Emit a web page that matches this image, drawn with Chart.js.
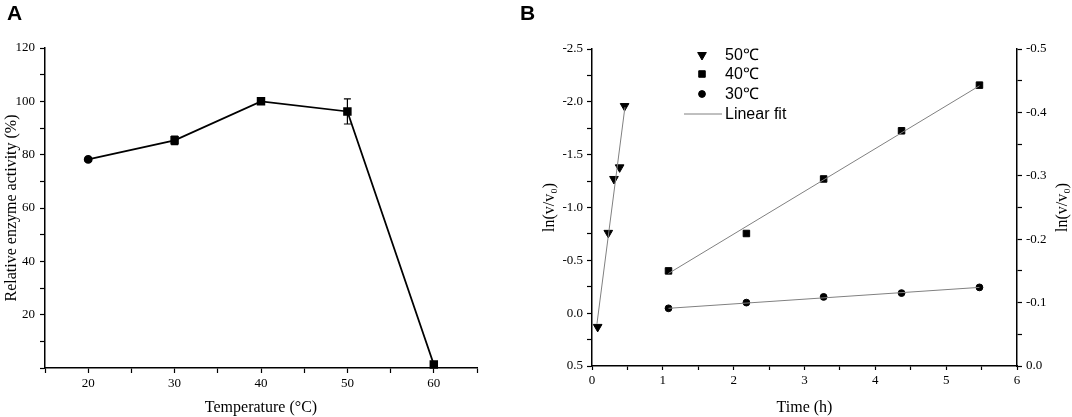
<!DOCTYPE html>
<html>
<head>
<meta charset="utf-8">
<script src="https://cdn.jsdelivr.net/npm/chart.js@4.4.1/dist/chart.umd.min.js"></script>
<style>
  html, body { margin: 0; padding: 0; background: #fff; }
  #wrap { position: relative; width: 1072px; height: 417px; overflow: hidden; }
  canvas { position: absolute; top: 0; }
  .tag { position: absolute; top: 2px; font: bold 21px 'Liberation Sans', Arial, sans-serif; line-height: 21px; color: #000; }
</style>
</head>
<body>
<div id="wrap">
  <canvas id="chartA" width="520" height="417" style="left:0"></canvas>
  <canvas id="chartB" width="552" height="417" style="left:520px"></canvas>
  <div class="tag" style="left:7px">A</div>
  <div class="tag" style="left:520px">B</div>
</div>
<script>
// Panel A: relative activity vs temperature
const tempC = [20, 30, 40, 50, 60];
const activity = [78.2, 85.4, 100, 96.2, 1.3];
const activityErr = [0.6, 1.6, 0.7, 4.7, 0.5];

// Panel B: ln(v/v0) vs time at three temperatures
const time50 = [0.08, 0.23, 0.31, 0.39, 0.46];
const ln50 = [0.13, -0.76, -1.27, -1.38, -1.96];
const time40 = [1.08, 2.18, 3.27, 4.37, 5.47];
const ln40 = [-0.150, -0.209, -0.295, -0.371, -0.443];
const time30 = [1.08, 2.18, 3.27, 4.37, 5.47];
const ln30 = [-0.091, -0.100, -0.109, -0.115, -0.124];

// linear fits, end points
const fit50Time = [0.07, 0.465];
const fit50Ln = [0.10, -1.95];
const fit40Time = [1.08, 5.47];
const fit40Ln = [-0.146, -0.442];
const fit30Time = [1.08, 5.47];
const fit30Ln = [-0.091, -0.124];

const legendLabels = ['50℃', '40℃', '30℃', 'Linear fit'];

const SERIF = "'Liberation Serif', 'Times New Roman', serif";
const SANS = "'Liberation Sans', Arial, sans-serif";

const toPoints = (xs, ys) => xs.map((x, i) => ({ x, y: ys[i] }));
const isMultiple = (v, every) => Math.abs(v / every - Math.round(v / every)) < 1e-6;

function axis({ size, step, every, digits = 0, hideZero = false, tickLen = 5, pad = 4, ...rest }) {
  return {
    type: 'linear',
    ...rest,
    afterFit: s => { if (s.isHorizontal()) s.height = size; else s.width = size; },
    border: { display: true, color: '#000', width: 1.5 },
    grid: { drawOnChartArea: false, drawTicks: true, tickLength: tickLen, tickWidth: 1.2, tickColor: '#000' },
    ticks: {
      stepSize: step, autoSkip: false, maxTicksLimit: 100, maxRotation: 0,
      color: '#000', padding: pad, font: { family: SERIF, size: 13 },
      callback: v => (hideZero && v === 0) ? '' : (isMultiple(v, every) ? v.toFixed(digits) : '')
    }
  };
}

const axisTitle = (text, top = 0) => ({
  display: true, text, color: '#000',
  font: { family: SERIF, size: 16 }, padding: { top, bottom: 0 }
});

const errorBars = {
  id: 'errorBars',
  afterDatasetsDraw(chart) {
    const { ctx, scales: { x, y } } = chart;
    ctx.save();
    ctx.strokeStyle = '#000';
    ctx.lineWidth = 1.2;
    tempC.forEach((t, i) => {
      const px = x.getPixelForValue(t);
      const top = y.getPixelForValue(activity[i] + activityErr[i]);
      const bot = y.getPixelForValue(activity[i] - activityErr[i]);
      ctx.beginPath();
      ctx.moveTo(px, top); ctx.lineTo(px, bot);
      ctx.moveTo(px - 3.5, top); ctx.lineTo(px + 3.5, top);
      ctx.moveTo(px - 3.5, bot); ctx.lineTo(px + 3.5, bot);
      ctx.stroke();
    });
    ctx.restore();
  }
};

new Chart(document.getElementById('chartA'), {
  type: 'scatter',
  data: {
    datasets: [{
      data: toPoints(tempC, activity),
      showLine: true,
      borderColor: '#000',
      borderWidth: 1.8,
      backgroundColor: '#000',
      pointStyle: ['circle', 'rect', 'rect', 'rect', 'rect'],
      pointRadius: [3.5, 4.7, 4.7, 4.7, 4.7],
      clip: false
    }]
  },
  options: {
    responsive: false,
    animation: false,
    layout: { padding: { left: 0, right: 43, top: 48, bottom: 0 } },
    plugins: { legend: { display: false }, tooltip: { enabled: false } },
    scales: {
      x: axis({ position: 'bottom', min: 15, max: 65, step: 5, every: 10, size: 49, pad: 3,
                title: axisTitle('Temperature (°C)') }),
      y: axis({ position: 'left', min: 0, max: 120, step: 10, every: 20, size: 45, pad: 5, hideZero: true,
                title: axisTitle('Relative enzyme activity (%)', 2) })
    }
  },
  plugins: [errorBars]
});

const markerB = {
  s50: { pointStyle: 'triangle', rotation: 180, radius: 5 },
  s40: { pointStyle: 'rect', rotation: 0, radius: 4.6 },
  s30: { pointStyle: 'circle', rotation: 0, radius: 3.4 }
};

function drawMarker(ctx, m, x, y) {
  ctx.save();
  ctx.fillStyle = '#000';
  ctx.strokeStyle = '#000';
  ctx.lineWidth = 1;
  Chart.helpers.drawPoint(ctx, { pointStyle: m.pointStyle, rotation: m.rotation, radius: m.radius, borderWidth: 1 }, x, y);
  ctx.restore();
}

const panelBExtras = {
  id: 'panelBExtras',
  afterDraw(chart) {
    const { ctx, chartArea: ca } = chart;
    // legend
    const mx = ca.left + 110, tx = ca.left + 133;
    const rows = [ca.top + 6, ca.top + 25, ca.top + 45, ca.top + 65];
    [markerB.s50, markerB.s40, markerB.s30].forEach((m, i) => drawMarker(ctx, m, mx, rows[i]));
    ctx.save();
    ctx.strokeStyle = '#808080';
    ctx.lineWidth = 1;
    ctx.beginPath();
    ctx.moveTo(ca.left + 92, rows[3]);
    ctx.lineTo(ca.left + 130, rows[3]);
    ctx.stroke();
    ctx.fillStyle = '#000';
    ctx.font = `16px ${SANS}`;
    ctx.textBaseline = 'middle';
    ctx.textAlign = 'left';
    legendLabels.forEach((t, i) => ctx.fillText(t, tx, rows[i] + 1));
    // right axis title, reading bottom to top like the left one
    ctx.font = `16px ${SERIF}`;
    ctx.textAlign = 'center';
    ctx.translate(chart.width - 9, (ca.top + ca.bottom) / 2);
    ctx.rotate(-Math.PI / 2);
    ctx.fillText('ln(v/v₀)', 0, 0);
    ctx.restore();
  }
};

const fitStyle = { type: 'line', borderColor: '#808080', borderWidth: 1, pointRadius: 0, fill: false, clip: false };
const markStyle = m => ({ showLine: false, backgroundColor: '#000', borderColor: '#000', pointBorderWidth: 1,
                          pointStyle: m.pointStyle, rotation: m.rotation, pointRadius: m.radius, clip: false });

new Chart(document.getElementById('chartB'), {
  type: 'scatter',
  data: {
    datasets: [
      { ...fitStyle, data: toPoints(fit50Time, fit50Ln), yAxisID: 'y' },
      { ...fitStyle, data: toPoints(fit40Time, fit40Ln), yAxisID: 'y2' },
      { ...fitStyle, data: toPoints(fit30Time, fit30Ln), yAxisID: 'y2' },
      { ...markStyle(markerB.s50), data: toPoints(time50, ln50), yAxisID: 'y' },
      { ...markStyle(markerB.s40), data: toPoints(time40, ln40), yAxisID: 'y2' },
      { ...markStyle(markerB.s30), data: toPoints(time30, ln30), yAxisID: 'y2' }
    ]
  },
  options: {
    responsive: false,
    animation: false,
    layout: { padding: { left: 0, right: 0, top: 49, bottom: 0 } },
    plugins: { legend: { display: false }, tooltip: { enabled: false } },
    scales: {
      x: axis({ position: 'bottom', min: 0, max: 6, step: 0.5, every: 1, size: 51, pad: 3, tickLen: 4,
                title: axisTitle('Time (h)') }),
      y: axis({ position: 'left', min: -2.5, max: 0.5, reverse: true, step: 0.25, every: 0.5, digits: 1,
                size: 72, pad: 4, tickLen: 5, title: axisTitle('ln(v/v₀)', 20) }),
      y2: axis({ position: 'right', min: -0.5, max: 0, reverse: true, step: 0.05, every: 0.1, digits: 1,
                 size: 55, pad: 4, tickLen: 5 })
    }
  },
  plugins: [panelBExtras]
});
</script>
</body>
</html>
